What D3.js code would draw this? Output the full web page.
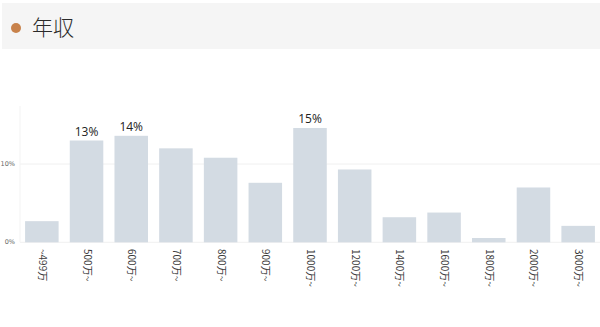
<!DOCTYPE html>
<html>
<head>
<meta charset="utf-8">
<script src="https://cdn.jsdelivr.net/npm/d3@7"></script>
<style>
  body { margin: 0; background: #fff; }
  svg { display: block; font-family: "Noto Sans CJK JP", "Noto Sans", sans-serif; }
</style>
</head>
<body>
<svg width="600" height="327"></svg>
<script>
var categories = ["~499万", "500万~", "600万~", "700万~", "800万~", "900万~", "1000万~",
                  "1200万~", "1400万~", "1600万~", "1800万~", "2000万~", "3000万~"];
var values = [2.7, 13.0, 13.6, 12.0, 10.8, 7.6, 14.6, 9.3, 3.2, 3.8, 0.55, 7.0, 2.1];
var labels = ["", "13%", "14%", "", "", "", "15%", "", "", "", "", "", ""];
var yTicks = [0, 10];

var svg = d3.select("svg");

// header band
svg.append("rect")
   .attr("x", 2).attr("y", 3)
   .attr("width", 598).attr("height", 46)
   .attr("fill", "#f5f5f5");
svg.append("circle")
   .attr("cx", 16).attr("cy", 28).attr("r", 5)
   .attr("fill", "#c8824b");
svg.append("text")
   .attr("x", 32).attr("y", 35)
   .attr("font-size", 21)
   .attr("font-weight", 300)
   .attr("fill", "#2a2a2a")
   .text("年収");

var x = d3.scaleBand().domain(categories).range([19.5, 600.5]).paddingInner(0.25).paddingOuter(0.125);
var y = d3.scaleLinear().domain([0, 10]).range([242.3, 164]);

// grid
svg.append("g").selectAll("line")
   .data(yTicks)
   .enter()
   .append("line")
   .attr("x1", 20).attr("x2", 600)
   .attr("y1", function(d) { return y(d); })
   .attr("y2", function(d) { return y(d); })
   .attr("stroke", "#f0f0f0")
   .attr("stroke-width", 1);

svg.append("line")
   .attr("x1", 20).attr("x2", 20)
   .attr("y1", 106).attr("y2", 242.3)
   .attr("stroke", "#f3f3f3");

svg.append("g").selectAll("text")
   .data(yTicks)
   .enter()
   .append("text")
   .attr("x", 15)
   .attr("y", function(d) { return y(d) + 2; })
   .attr("text-anchor", "end")
   .attr("font-size", 6.5)
   .attr("fill", "#666")
   .attr("font-family", "DejaVu Sans, sans-serif")
   .text(function(d) { return d + "%"; });

// bars
svg.append("g").selectAll("rect")
   .data(values)
   .enter()
   .append("rect")
   .attr("x", function(d, i) { return x(categories[i]); })
   .attr("y", function(d) { return y(d); })
   .attr("width", x.bandwidth())
   .attr("height", function(d) { return y(0) - y(d); })
   .attr("fill", "#d3dbe3");

// value labels
svg.append("g").selectAll("text")
   .data(values)
   .enter()
   .append("text")
   .attr("x", function(d, i) { return x(categories[i]) + x.bandwidth() / 2; })
   .attr("y", function(d) { return y(d) - 5; })
   .attr("text-anchor", "middle")
   .attr("font-size", 12)
   .attr("fill", "#222")
   .attr("font-family", "Open Sans, sans-serif")
   .text(function(d, i) { return labels[i]; });

// category labels (rotated)
svg.append("g").selectAll("text")
   .data(categories)
   .enter()
   .append("text")
   .attr("transform", function(d) {
       return "translate(" + (x(d) + x.bandwidth() / 2 - 3) + ",249) rotate(90)";
   })
   .attr("font-size", 10)
   .attr("fill", "#3a3a3a")
   .text(function(d) { return d; });
</script>
</body>
</html>
